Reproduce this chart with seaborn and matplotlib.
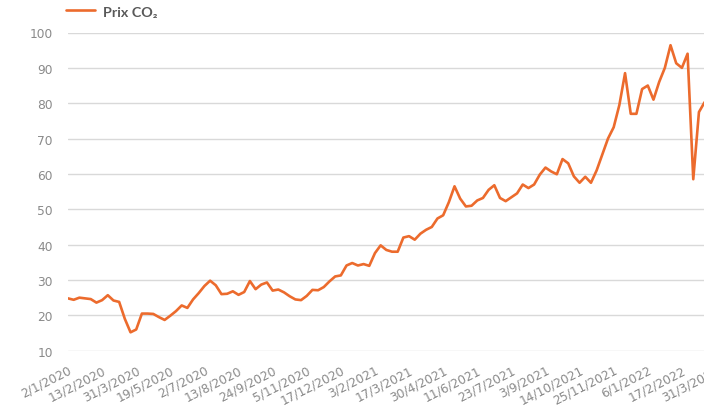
import numpy as np
import pandas as pd
import matplotlib
matplotlib.use('Agg')
import matplotlib.pyplot as plt
import seaborn as sns

# prix hebdomadaire du CO2 (EUR/t)
prix = [24.8, 24.4, 25.0, 24.8, 24.6, 23.6, 24.3, 25.7, 24.2, 23.8,
        19.0, 15.2, 16.0, 20.5, 20.5, 20.4, 19.5, 18.7, 19.9, 21.2,
        22.8, 22.1, 24.5, 26.3, 28.3, 29.8, 28.5, 26.0, 26.1, 26.8,
        25.8, 26.6, 29.7, 27.4, 28.7, 29.3, 27.0, 27.3, 26.5, 25.4,
        24.5, 24.3, 25.5, 27.2, 27.1, 28.0, 29.6, 31.0, 31.3, 34.1,
        34.8, 34.1, 34.5, 34.0, 37.6, 39.8, 38.5, 38.0, 38.0, 42.0,
        42.4, 41.4, 43.1, 44.2, 45.0, 47.4, 48.3, 52.0, 56.5, 53.0,
        50.8, 51.0, 52.5, 53.2, 55.5, 56.8, 53.2, 52.3, 53.4, 54.5,
        57.0, 56.0, 57.0, 59.8, 61.8, 60.7, 59.9, 64.2, 63.0, 59.3,
        57.5, 59.2, 57.5, 61.0, 65.5, 70.0, 73.2, 79.5, 88.5, 77.0,
        77.0, 84.0, 85.0, 81.0, 86.0, 90.0, 96.4, 91.3, 90.0, 94.0,
        58.5, 77.5, 80.3]

# une étiquette toutes les 6 semaines (30 séances)
dates = ['2/1/2020', '13/2/2020', '31/3/2020', '19/5/2020', '2/7/2020',
         '13/8/2020', '24/9/2020', '5/11/2020', '17/12/2020', '3/2/2021',
         '17/3/2021', '30/4/2021', '11/6/2021', '23/7/2021', '3/9/2021',
         '14/10/2021', '25/11/2021', '6/1/2022', '17/2/2022', '31/3/2022']

df = pd.DataFrame({'semaine': np.arange(len(prix)), 'prix': prix})

sns.set_theme(style='white')
plt.rcParams['font.family'] = ['DejaVu Sans']

fig = plt.figure(figsize=(7.04, 4.10), dpi=100)
ax = fig.add_axes([68 / 704, 58.3 / 410, 648 / 704, 318.2 / 410])

sns.lineplot(data=df, x='semaine', y='prix', ax=ax, color='#EC6B2D',
             linewidth=1.9, label='Prix CO\u2082')

ax.set_xlim(0, 6 * (len(dates) - 1))
ax.set_ylim(10, 100)
ax.set_yticks(range(10, 101, 10))
ax.set_xticks(np.arange(0, 6 * len(dates), 6))
ax.set_xticklabels(dates, rotation=27, ha='right', rotation_mode='anchor')
ax.tick_params(axis='x', length=0, pad=9, labelsize=8.8, labelcolor='#8a8a8a')
ax.tick_params(axis='y', length=0, pad=11, labelsize=8.8, labelcolor='#8a8a8a')
ax.grid(axis='y', color='#d9d9d9', linewidth=1)
ax.set_axisbelow(True)
for s in ax.spines.values():
    s.set_visible(False)
ax.set_xlabel('')
ax.set_ylabel('')

leg = ax.legend(loc='upper left', bbox_to_anchor=(66 / 704, 1 - 6 / 410),
                bbox_transform=fig.transFigure, frameon=False,
                handlelength=1.9, handletextpad=0.5, borderpad=0,
                borderaxespad=0)
for t in leg.get_texts():
    t.set_fontsize(10.3)
    t.set_color('#595959')
    t.set_fontweight('bold')
    t.set_family(['Lato', 'DejaVu Sans'])

fig.savefig('out.png', dpi=100)
